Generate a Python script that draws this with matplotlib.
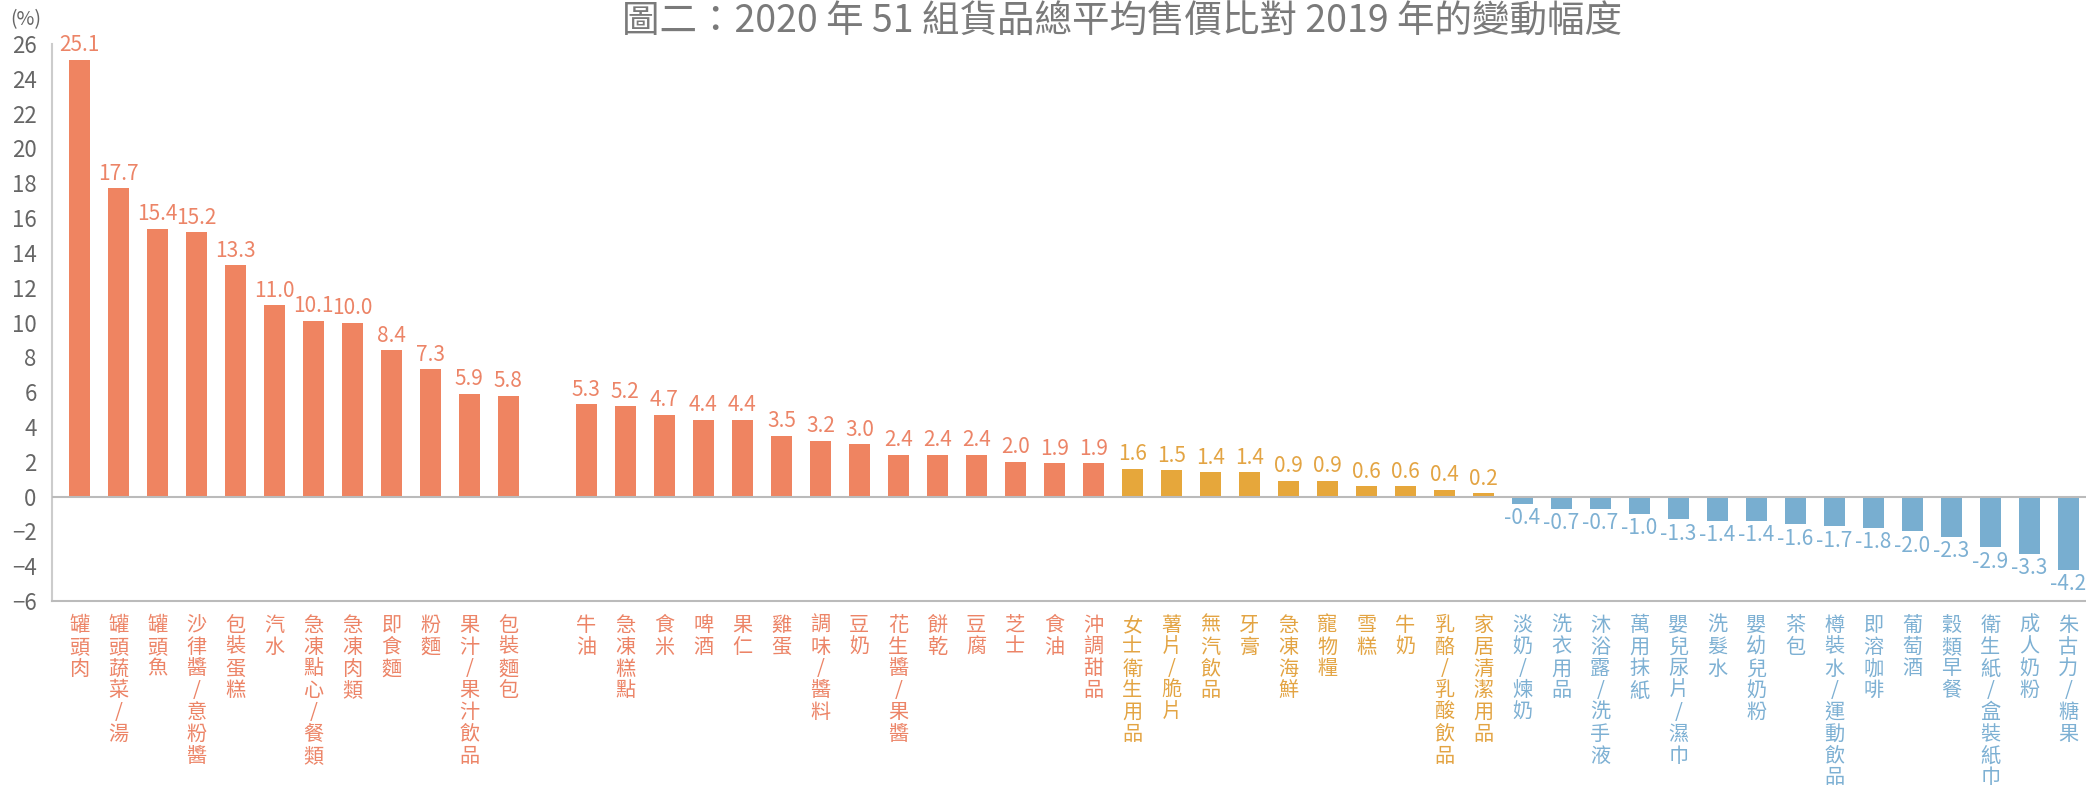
import numpy as np
import matplotlib
matplotlib.use('Agg')
import matplotlib.pyplot as plt

plt.rcParams['font.family'] = ['Noto Sans CJK TC', 'DejaVu Sans']

# data
names = ['罐頭肉', '罐頭蔬菜/湯', '罐頭魚', '沙律醬/意粉醬', '包裝蛋糕', '汽水',
         '急凍點心/餐類', '急凍肉類', '即食麵', '粉麵', '果汁/果汁飲品', '包裝麵包',
         '牛油', '急凍糕點', '食米', '啤酒', '果仁', '雞蛋', '調味/醬料', '豆奶',
         '花生醬/果醬', '餅乾', '豆腐', '芝士', '食油', '沖調甜品',
         '女士衛生用品', '薯片/脆片', '無汽飲品', '牙膏', '急凍海鮮', '寵物糧',
         '雪糕', '牛奶', '乳酪/乳酸飲品', '家居清潔用品',
         '淡奶/煉奶', '洗衣用品', '沐浴露/洗手液', '萬用抹紙', '嬰兒尿片/濕巾',
         '洗髮水', '嬰幼兒奶粉', '茶包', '樽裝水/運動飲品', '即溶咖啡', '葡萄酒',
         '穀類早餐', '衛生紙/盒裝紙巾', '成人奶粉', '朱古力/糖果']
values = [25.1, 17.7, 15.4, 15.2, 13.3, 11.0, 10.1, 10.0, 8.4, 7.3, 5.9, 5.8,
          5.3, 5.2, 4.7, 4.4, 4.4, 3.5, 3.2, 3.0, 2.4, 2.4, 2.4, 2.0, 1.9, 1.9,
          1.6, 1.5, 1.4, 1.4, 0.9, 0.9, 0.6, 0.6, 0.4, 0.2,
          -0.4, -0.7, -0.7, -1.0, -1.3, -1.4, -1.4, -1.6, -1.7, -1.8, -2.0,
          -2.3, -2.9, -3.3, -4.2]
groups = ['A'] * 26 + ['B'] * 10 + ['C'] * 15
gap_after = 12  # empty slot after the first 12 items

bar_colors = {'A': '#EF8461', 'B': '#E6A73B', 'C': '#78AED0'}
text_colors = {'A': '#EC8467', 'B': '#E3A443', 'C': '#7DB0D3'}

x = np.array([i if i < gap_after else i + 1 for i in range(len(values))])

fig = plt.figure(figsize=(20.86, 7.91), dpi=100)
ax = fig.add_axes([52 / 2086, 1 - 601 / 791, 1 - 52 / 2086, (601 - 44) / 791])

cols = [bar_colors[g] for g in groups]
ax.bar(x, values, width=0.54, color=cols, zorder=2)

for xi, v, g in zip(x, values, groups):
    if v >= 0:
        ax.text(xi, v + 0.2, '{:.1f}'.format(v), ha='center', va='bottom',
                fontsize=15, color=text_colors[g])
    else:
        ax.text(xi, v - 0.2, '{:.1f}'.format(v), ha='center', va='top',
                fontsize=15, color=text_colors[g])

ax.axhline(0, color='#BBBBBB', lw=1.5, zorder=3)

ax.set_xlim(-0.7, 51.45)
ax.set_ylim(-6, 26)
ax.set_yticks(np.arange(-6, 27, 2))
ax.tick_params(axis='y', length=0, pad=11, labelsize=16, labelcolor='#666666')

ax.set_xticks(x)
ax.set_xticklabels(['\n'.join(n) for n in names], fontsize=14.5, linespacing=1.05)
ax.tick_params(axis='x', length=0, pad=10)
for lbl, g in zip(ax.get_xticklabels(), groups):
    lbl.set_color(text_colors[g])
    lbl.set_verticalalignment('top')

for s in ['top', 'right']:
    ax.spines[s].set_visible(False)
ax.spines['left'].set_color('#CCCCCC')
ax.spines['left'].set_linewidth(1.5)
ax.spines['bottom'].set_color('#BBBBBB')
ax.spines['bottom'].set_linewidth(1.5)

fig.text(26 / 2086, 1 - 20 / 791, '(%)', ha='center', va='center',
         fontsize=14, color='#666666')
fig.text(1122 / 2086, 1 - 22 / 791, '圖二：2020 年 51 組貨品總平均售價比對 2019 年的變動幅度',
         ha='center', va='center', fontsize=27, color='#7A7A7A')

fig.savefig('out.png', dpi=100)
